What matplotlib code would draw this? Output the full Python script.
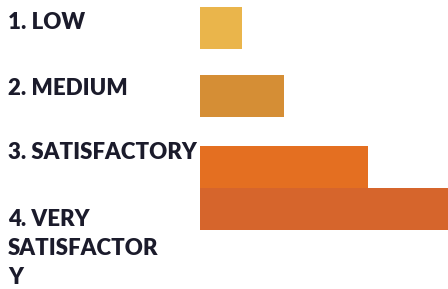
import matplotlib
matplotlib.use("Agg")
import matplotlib.pyplot as plt
from matplotlib.transforms import blended_transform_factory

categories = ["1. LOW", "2. MEDIUM", "3. SATISFACTORY", "4. VERY\nSATISFACTOR\nY"]
values = [1, 2, 4, 6]
colors = ["#EAB54B", "#D58E35", "#E46F21", "#D6652C"]

bar_pos = [27.5, 95.5, 166.5, 208.5]
bar_h = 42
label_base = [29.3, 95.0, 159.3, 225.7]
line_step = 29.4

W, H = 448, 289
fig = plt.figure(figsize=(W / 100, H / 100), dpi=100)
ax = fig.add_axes([200 / W, 0, 248 / W, 1])
ax.barh(bar_pos, values, height=bar_h, color=colors)
ax.set_xlim(0, 248 / 42)
ax.set_ylim(H, 0)
ax.axis("off")

trans = blended_transform_factory(fig.transFigure, ax.transData)
for lab, yb in zip(categories, label_base):
    for i, line in enumerate(lab.split("\n")):
        ax.text(8 / W, yb + i * line_step, line, transform=trans,
                ha="left", va="baseline", fontsize=16, fontweight="heavy",
                family="Lato", color="#1B1B2B", clip_on=False)

fig.savefig("out.png", dpi=100)
